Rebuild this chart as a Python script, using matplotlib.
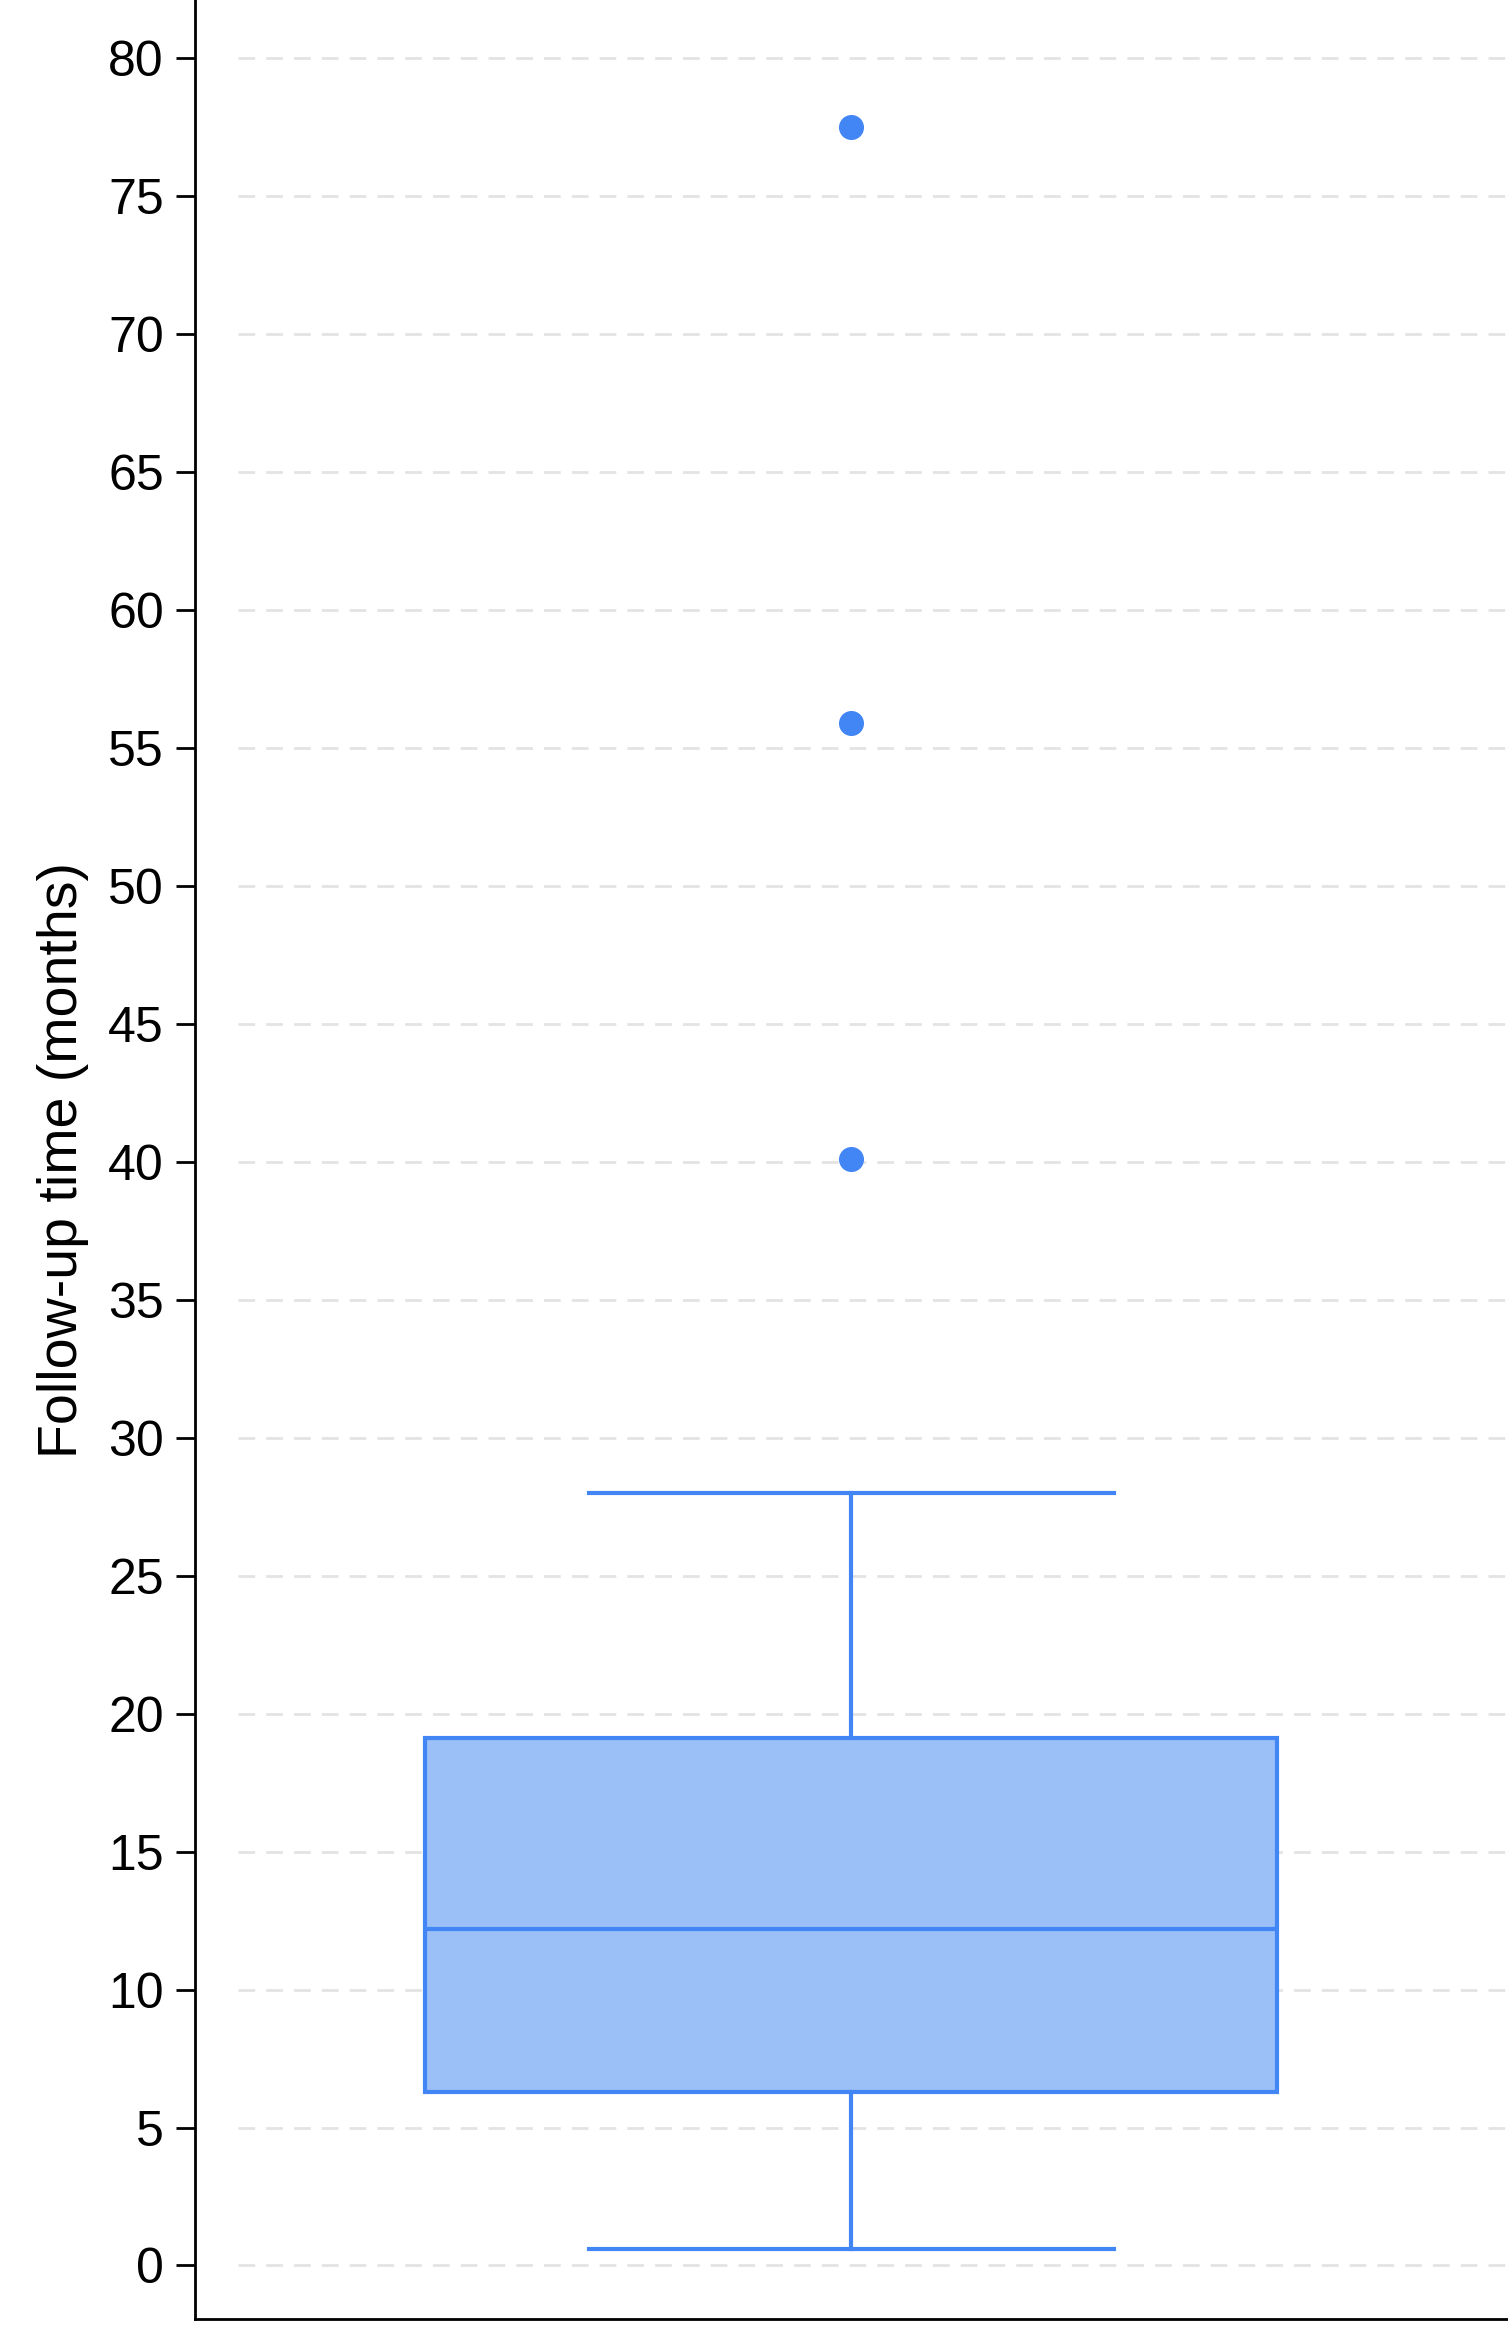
import matplotlib
matplotlib.use("Agg")
import matplotlib.pyplot as plt

# box statistics
whisker_low = 0.6
q1 = 6.3
median = 12.2
q3 = 19.1
whisker_high = 28.0
outliers = [40.1, 55.9, 77.5]
yticks = list(range(0, 81, 5))

plt.rcParams['font.family'] = ['Liberation Sans', 'DejaVu Sans']

fig = plt.figure(figsize=(15.08, 23.26), dpi=100)
ax = fig.add_axes([0.129, 0.003, 0.871, 0.997])

stats = [dict(whislo=whisker_low, q1=q1, med=median, q3=q3, whishi=whisker_high,
              fliers=outliers, label='')]
edge = '#4285f4'
ax.bxp(stats, positions=[0.5], widths=0.649, capwidths=0.40, patch_artist=True,
       boxprops=dict(facecolor='#9bbff7', edgecolor=edge, linewidth=3),
       medianprops=dict(color=edge, linewidth=3),
       whiskerprops=dict(color=edge, linewidth=3),
       capprops=dict(color=edge, linewidth=3),
       flierprops=dict(marker='o', markerfacecolor=edge, markeredgecolor=edge, markersize=17))

for t in yticks:
    ax.plot([0.033, 1.0], [t, t], transform=ax.get_yaxis_transform(),
            color='#e3e3e3', linestyle=(0, (6, 4)), linewidth=2, zorder=0)

ax.set_xlim(0, 1)
ax.set_ylim(-1.94, 82.1)
ax.set_yticks(yticks)
ax.set_xticks([])
ax.tick_params(axis='y', labelsize=36, length=14, width=2, direction='out', pad=8)
ax.spines['top'].set_visible(False)
ax.spines['right'].set_visible(False)
ax.spines['left'].set_linewidth(2)
ax.spines['bottom'].set_linewidth(2)
ax.set_ylabel('Follow-up time (months)', fontsize=40, labelpad=14)

fig.savefig('out.png', dpi=100)
